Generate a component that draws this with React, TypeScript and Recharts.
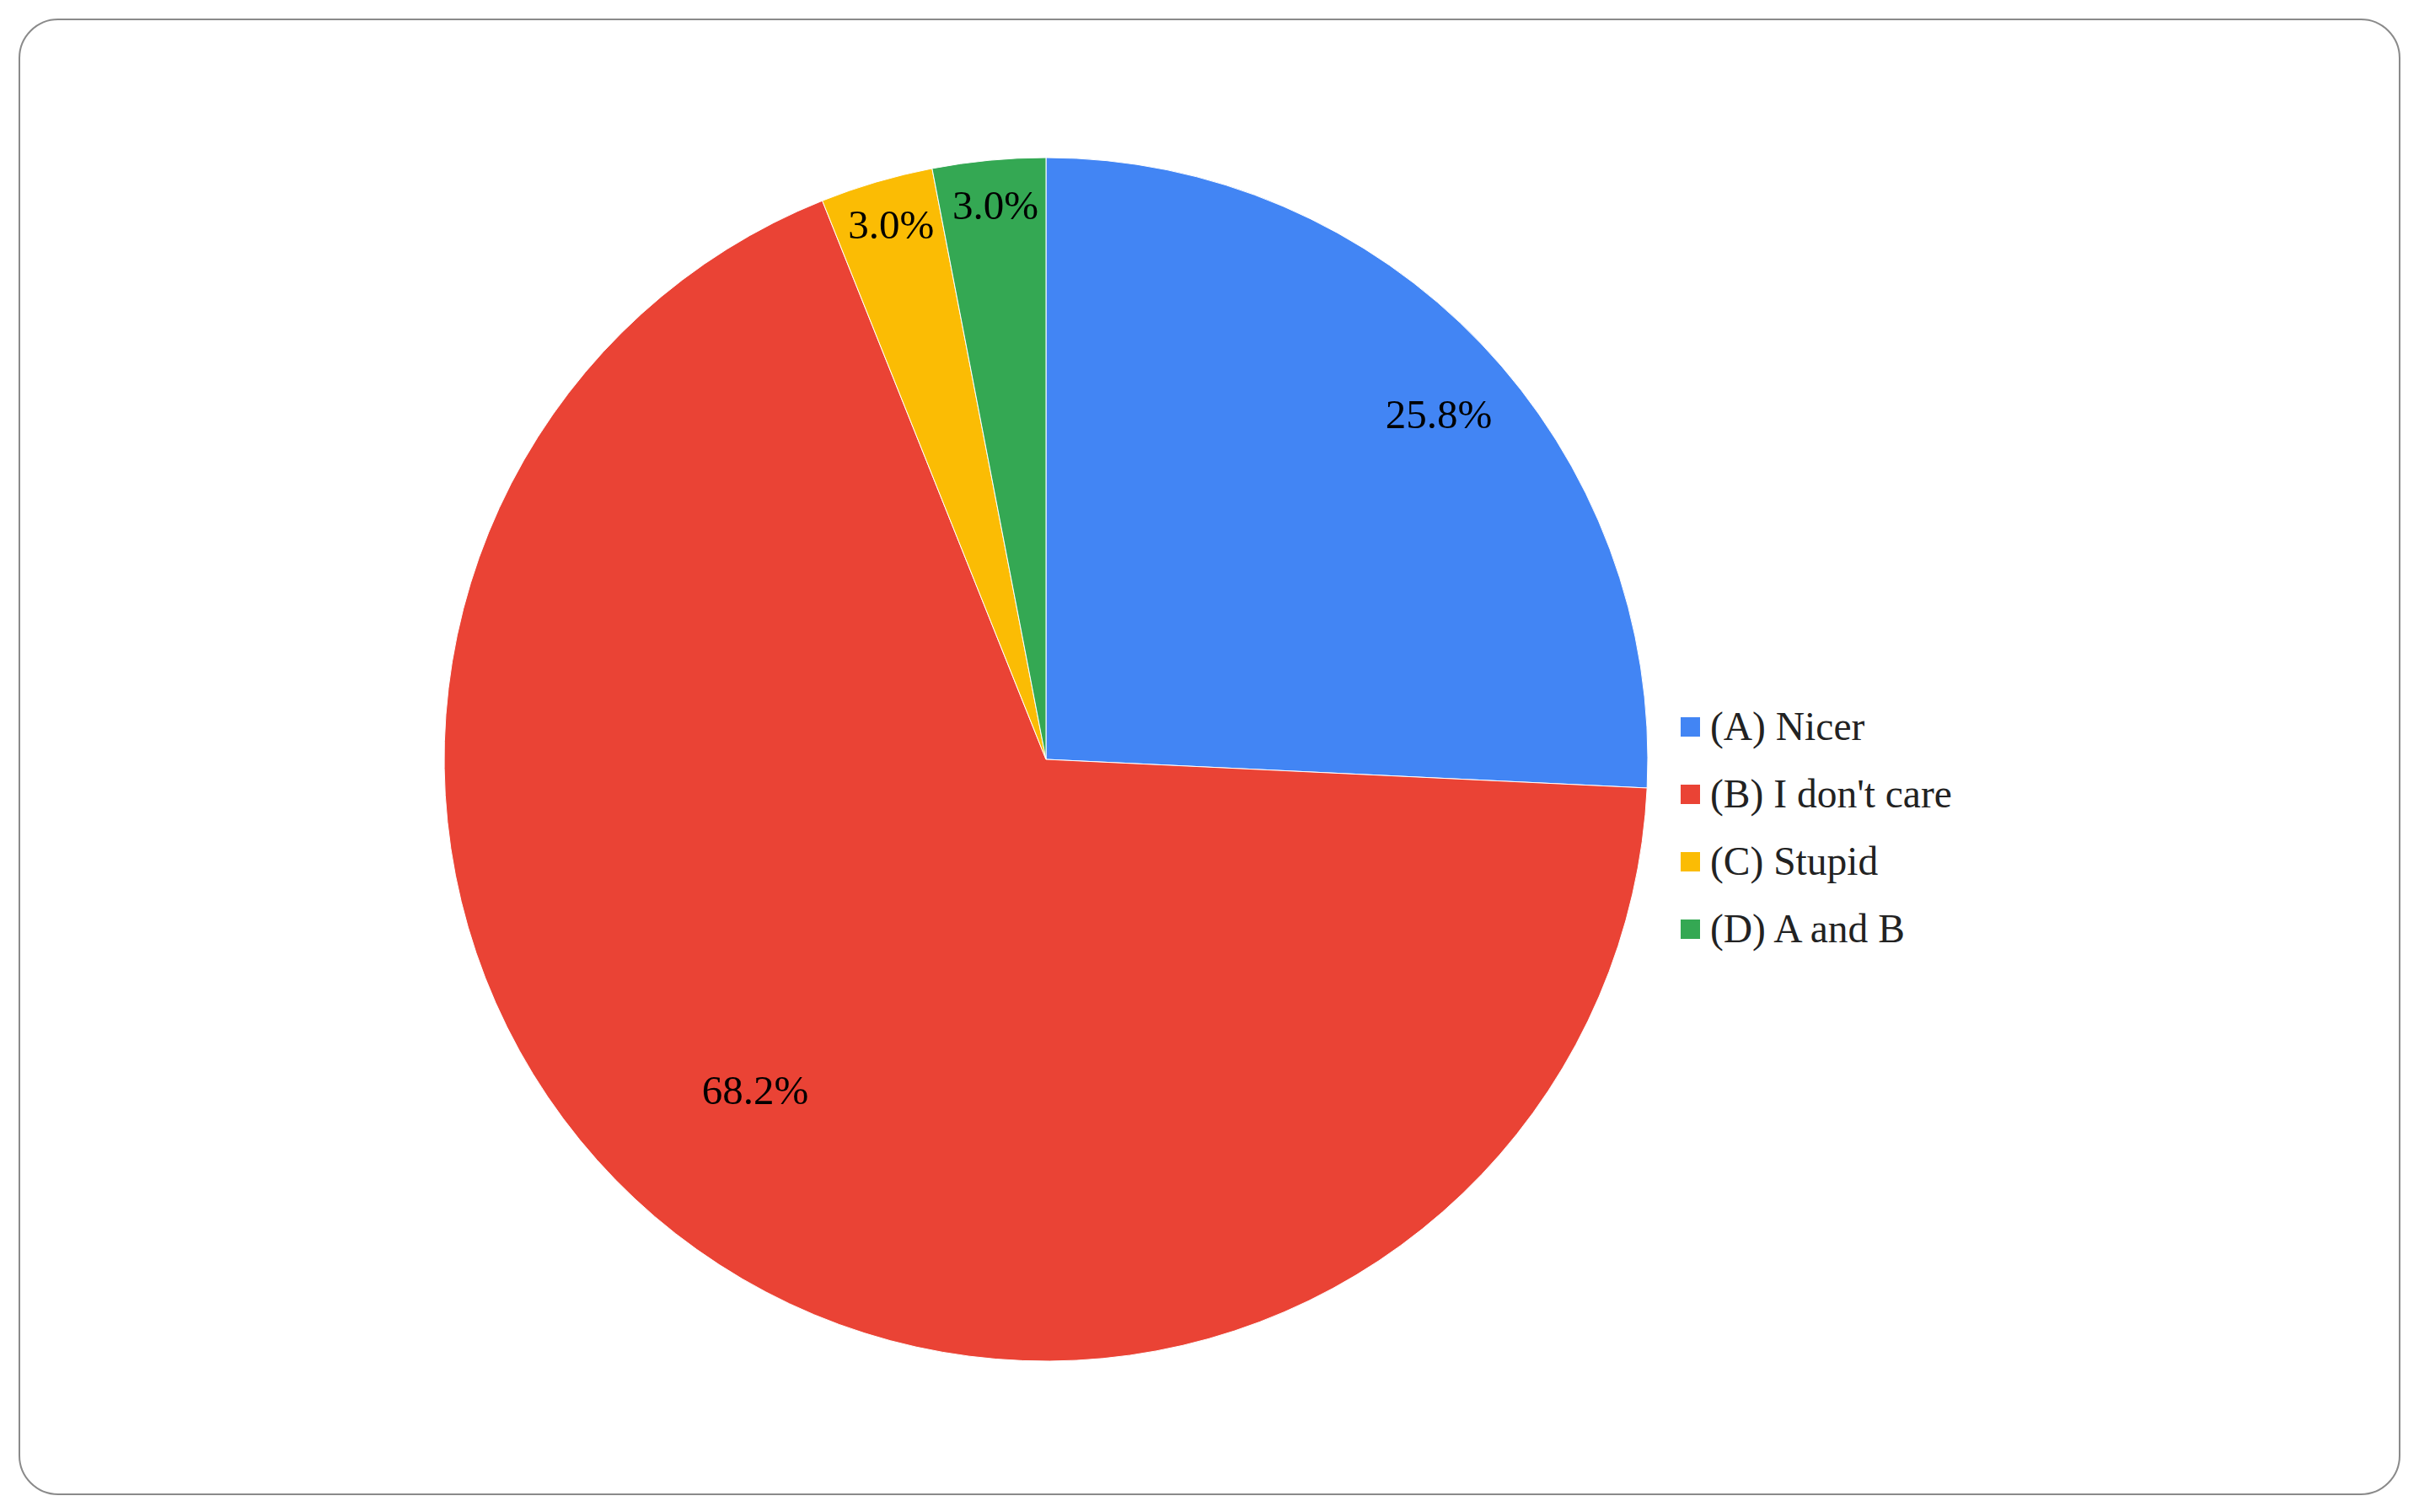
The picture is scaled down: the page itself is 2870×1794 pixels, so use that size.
import { Legend, Pie, PieChart, Cell } from "recharts"

const categories = ["(A) Nicer", "(B) I don't care", "(C) Stupid", "(D) A and B"]
const responses = [17, 45, 2, 2]
const colors = ["#4285F4", "#EA4335", "#FBBC04", "#34A853"]

const data = categories.map((name, i) => ({ name, value: responses[i] }))

const FONT = "'Liberation Serif', 'Times New Roman', Times, serif"
const RADIAN = Math.PI / 180

// roughly where google puts the percent labels: small slices near the rim, big ones further in
function renderLabel(props: any) {
  const { cx, cy, midAngle, outerRadius, percent } = props
  const frac = percent > 0.5 ? 0.73 : 0.935 - 0.25 * percent
  const r = outerRadius * frac
  const angle = midAngle - (percent > 0.5 ? (percent - 0.5) * 33 : percent * 8.5)
  const x = cx + r * Math.cos(-angle * RADIAN)
  const y = cy + r * Math.sin(-angle * RADIAN) + 2
  return (
    <text
      x={x}
      y={y}
      textAnchor="middle"
      dominantBaseline="central"
      fill="#000"
      style={{ fontFamily: FONT, fontSize: 49 }}
    >
      {(percent * 100).toFixed(1)}%
    </text>
  )
}

function LegendContent() {
  return (
    <div style={{ fontFamily: FONT, fontSize: 47.5, color: "#222" }}>
      {data.map((d, i) => (
        <div key={d.name} style={{ display: "flex", alignItems: "center", height: 80 }}>
          <span style={{ width: 23, height: 23, background: colors[i], marginRight: 12, display: "inline-block" }} />
          <span>{d.name}</span>
        </div>
      ))}
    </div>
  )
}

export default function App() {
  return (
    <div style={{ position: "absolute", left: 0, top: 0, width: 2870, height: 1794, background: "#fff", fontFamily: FONT }}>
      <div
        style={{
          position: "absolute",
          left: 22,
          top: 22,
          width: 2822,
          height: 1748,
          border: "2px solid #8a8a8a",
          borderRadius: 47,
        }}
      />
      <div style={{ position: "absolute", left: 0, top: 0 }}>
        <PieChart width={2870} height={1794} style={{ fontFamily: FONT }}>
          <Pie
            data={data}
            dataKey="value"
            nameKey="name"
            cx={1236}
            cy={896}
            outerRadius={714}
            startAngle={90}
            endAngle={-270}
            stroke="#fff"
            strokeWidth={1}
            label={renderLabel}
            labelLine={false}
            isAnimationActive={false}
          >
            {data.map((d, i) => (
              <Cell key={d.name} fill={colors[i]} />
            ))}
          </Pie>
          <Legend
            layout="vertical"
            content={<LegendContent />}
            wrapperStyle={{ left: 1994, top: 822, width: 600 }}
          />
        </PieChart>
      </div>
    </div>
  )
}
